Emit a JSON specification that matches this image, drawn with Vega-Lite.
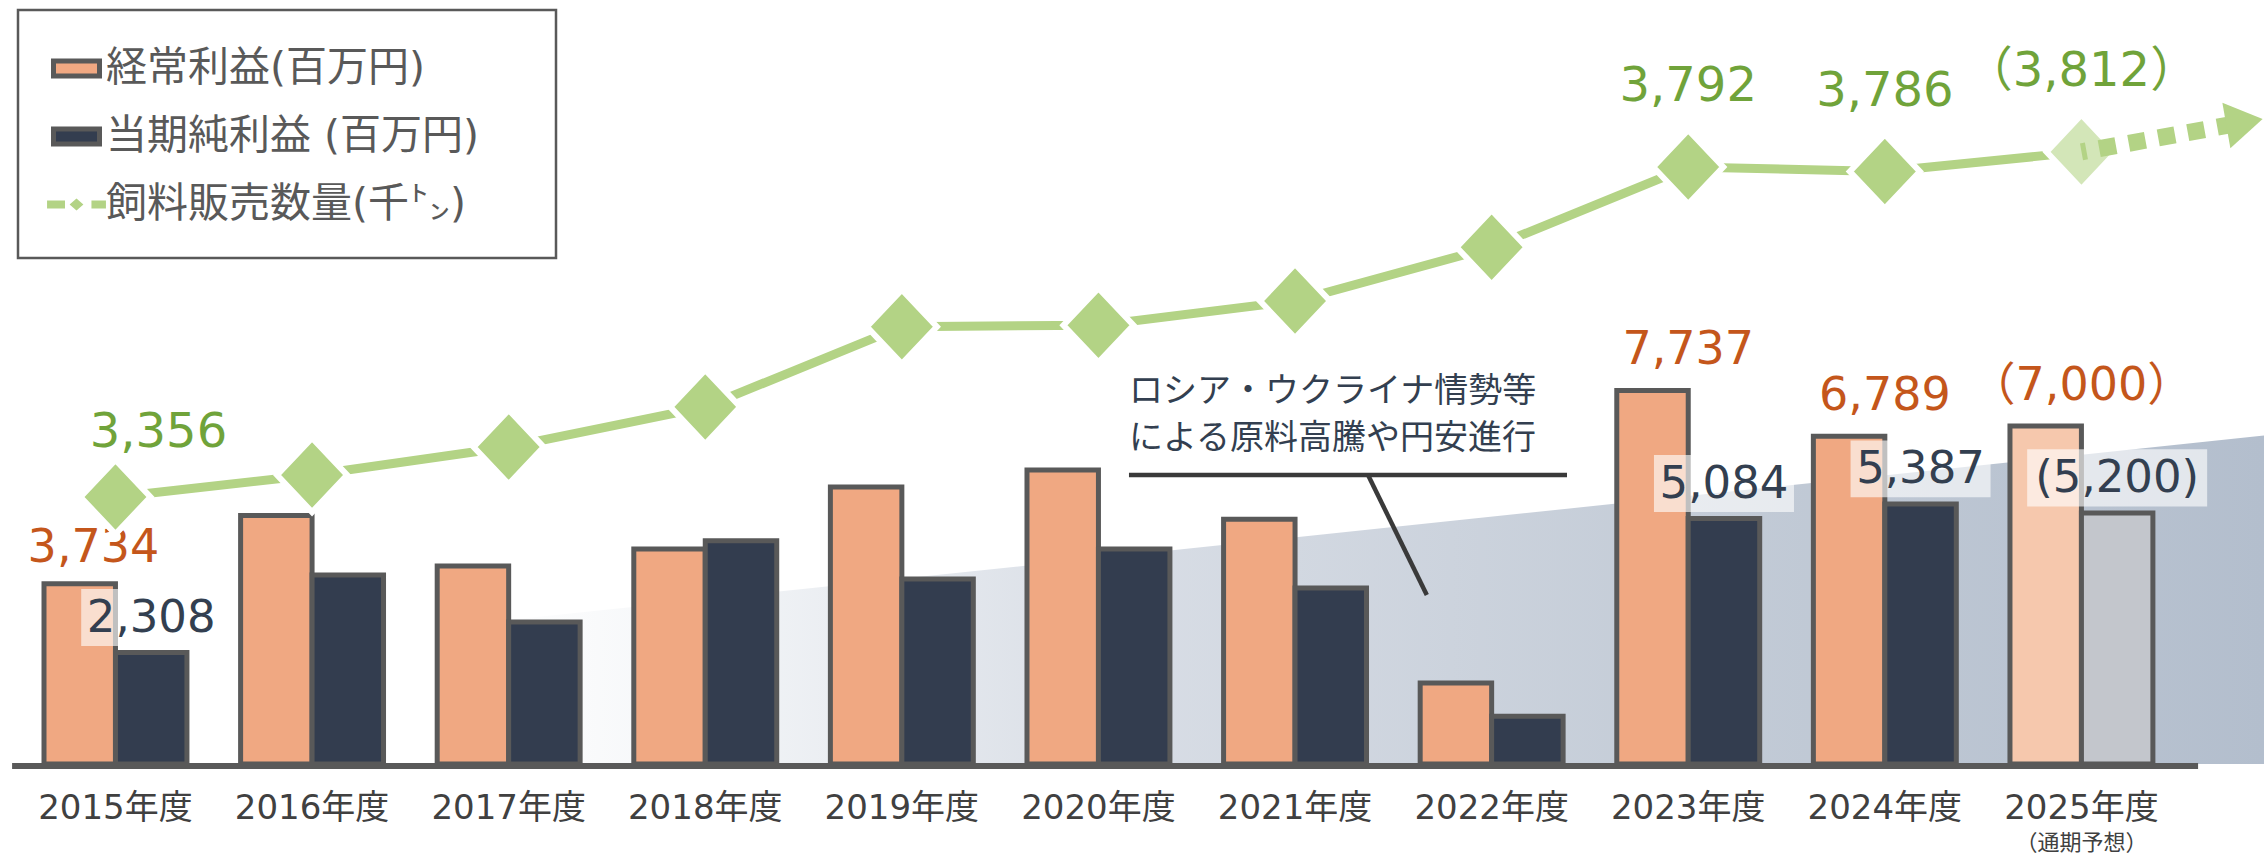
{
  "$schema": "https://vega.github.io/schema/vega-lite/v6.json",
  "width": 2264,
  "height": 764,
  "autosize": {"type": "none"},
  "padding": {"left": 0, "top": 0, "right": 0, "bottom": 94},
  "background": "#ffffff",
  "config": {"view": {"stroke": null}, "font": "Noto Sans CJK JP"},
  "datasets": {
    "bars": [
      {"year": "2015年度", "series": "経常利益(百万円)", "value": 3734, "label": "3,734"},
      {"year": "2015年度", "series": "当期純利益 (百万円)", "value": 2308, "label": "2,308"},
      {"year": "2016年度", "series": "経常利益(百万円)", "value": 5145, "label": ""},
      {"year": "2016年度", "series": "当期純利益 (百万円)", "value": 3912, "label": ""},
      {"year": "2017年度", "series": "経常利益(百万円)", "value": 4098, "label": ""},
      {"year": "2017年度", "series": "当期純利益 (百万円)", "value": 2942, "label": ""},
      {"year": "2018年度", "series": "経常利益(百万円)", "value": 4452, "label": ""},
      {"year": "2018年度", "series": "当期純利益 (百万円)", "value": 4622, "label": ""},
      {"year": "2019年度", "series": "経常利益(百万円)", "value": 5738, "label": ""},
      {"year": "2019年度", "series": "当期純利益 (百万円)", "value": 3830, "label": ""},
      {"year": "2020年度", "series": "経常利益(百万円)", "value": 6090, "label": ""},
      {"year": "2020年度", "series": "当期純利益 (百万円)", "value": 4452, "label": ""},
      {"year": "2021年度", "series": "経常利益(百万円)", "value": 5070, "label": ""},
      {"year": "2021年度", "series": "当期純利益 (百万円)", "value": 3645, "label": ""},
      {"year": "2022年度", "series": "経常利益(百万円)", "value": 1675, "label": ""},
      {"year": "2022年度", "series": "当期純利益 (百万円)", "value": 990, "label": ""},
      {"year": "2023年度", "series": "経常利益(百万円)", "value": 7737, "label": "7,737"},
      {"year": "2023年度", "series": "当期純利益 (百万円)", "value": 5084, "label": "5,084"},
      {"year": "2024年度", "series": "経常利益(百万円)", "value": 6789, "label": "6,789"},
      {"year": "2024年度", "series": "当期純利益 (百万円)", "value": 5387, "label": "5,387"},
      {"year": "2025年度", "series": "経常利益(百万円)", "value": 7000, "label": "（7,000）"},
      {"year": "2025年度", "series": "当期純利益 (百万円)", "value": 5200, "label": "(5,200)"}
    ],
    "feed": [
      {"year": "2015年度", "value": 3356, "label": "3,356"},
      {"year": "2016年度", "value": 3385, "label": ""},
      {"year": "2017年度", "value": 3422, "label": ""},
      {"year": "2018年度", "value": 3475, "label": ""},
      {"year": "2019年度", "value": 3581, "label": ""},
      {"year": "2020年度", "value": 3583, "label": ""},
      {"year": "2021年度", "value": 3615, "label": ""},
      {"year": "2022年度", "value": 3686, "label": ""},
      {"year": "2023年度", "value": 3792, "label": "3,792"},
      {"year": "2024年度", "value": 3786, "label": "3,786"},
      {"year": "2025年度", "value": 3812, "label": "（3,812）"}
    ],
    "arrow": [
      {"i": 10, "v": 3812},
      {"i": 10.806, "v": 3850}
    ],
    "bg": [
      {"i": 1.854, "top": 2920},
      {"i": 10.9283, "top": 6803}
    ],
    "rules": [
      {"kind": "base", "i": -0.526, "i2": 10.593, "v": -41, "v2": -41},
      {"kind": "note", "i": 5.155, "i2": 7.383, "v": 5985, "v2": 5985},
      {"kind": "note", "i": 6.371, "i2": 6.67, "v": 5985, "v2": 3500}
    ],
    "note": [
      {"i": 5.155, "v": 7700, "t": "ロシア・ウクライナ情勢等"},
      {"i": 5.155, "v": 6740, "t": "による原料高騰や円安進行"}
    ],
    "foot": [
      {"i": 10, "v": -1636, "t": "（通期予想）"}
    ]
  },
  "layer": [
    {
      "data": {"name": "bg"},
      "mark": {
        "type": "area",
        "color": {
          "gradient": "linear", "x1": 0, "y1": 0, "x2": 1, "y2": 0,
          "stops": [
            {"offset": 0, "color": "#ffffff"},
            {"offset": 0.12, "color": "#f4f6f8"},
            {"offset": 0.35, "color": "#d9dee6"},
            {"offset": 0.65, "color": "#c5cdd8"},
            {"offset": 1, "color": "#b3becd"}
          ]
        }
      },
      "encoding": {
        "x": {"field": "i", "type": "quantitative", "scale": {"domain": [-0.58749, 10.92828], "nice": false, "zero": false}, "axis": null},
        "y": {"field": "top", "type": "quantitative", "scale": {"domain": [0, 15822], "nice": false, "zero": false}, "axis": null},
        "y2": {"datum": 0}
      }
    },
    {
      "data": {"name": "bars"},
      "encoding": {
        "x": {
          "field": "year", "type": "nominal",
          "scale": {"type": "band", "domain": ["2015年度","2016年度","2017年度","2018年度","2019年度","2020年度","2021年度","2022年度","2023年度","2024年度","2025年度"], "paddingInner": 0.273, "paddingOuter": 0.3945, "align": 0.2837, "round": false},
          "axis": {"title": null, "domain": false, "ticks": false, "labelAngle": 0, "labelFont": "DejaVu Sans, Noto Sans CJK JP", "labelFontSize": 34, "labelColor": "#404040", "labelPadding": 27}
        },
        "y": {"field": "value", "type": "quantitative", "scale": {"domain": [0, 15822], "nice": false, "zero": false}, "axis": null}
      },
      "layer": [
        {
          "mark": {"type": "bar", "stroke": "#595959", "strokeWidth": 5},
          "encoding": {
            "xOffset": {"field": "series", "type": "nominal", "scale": {"domain": ["経常利益(百万円)", "当期純利益 (百万円)"], "paddingInner": 0, "paddingOuter": 0}},
            "color": {
              "condition": [
                {"test": "datum.year === '2025年度' && datum.series === '経常利益(百万円)'", "value": "#f6c8ad"},
                {"test": "datum.year === '2025年度' && datum.series === '当期純利益 (百万円)'", "value": "#c3c6cc"}
              ],
              "field": "series", "type": "nominal",
              "scale": {"domain": ["経常利益(百万円)", "当期純利益 (百万円)", "飼料販売数量(千㌧)"], "range": ["#f0a882", "#333d4f", "#b3d385"]},
              "legend": {
                "orient": "none", "legendX": 18, "legendY": 10, "title": null,
                "padding": 33, "strokeColor": "#595959", "fillColor": "#ffffff",
                "labelFont": "DejaVu Sans, Noto Sans CJK JP", "labelFontSize": 41, "labelColor": "#595959", "labelLimit": 0,
                "labelExpr": "datum.label + ' \u2800'",
                "symbolSize": 2116, "symbolStrokeWidth": 5, "symbolStrokeColor": "#595959", "symbolOpacity": 1,
                "labelOffset": 4, "rowPadding": 22,
                "encode": {
                  "legend": {"update": {"strokeWidth": {"value": 2.5}}},
                  "symbols": {"update": {
                    "shape": {"signal": "datum.index === 2 ? 'M-1.28,-0.17H-0.5V0.17H-1.28Z M-0.3,0L0,-0.26L0.3,0L0,0.26Z M0.65,-0.17H1.28V0.17H0.65Z' : 'M-1,-0.33H1V0.33H-1Z'"},
                    "stroke": {"signal": "datum.index === 2 ? 'transparent' : '#595959'"},
                    "strokeWidth": {"value": 5}
                  }}
                }
              }
            }
          }
        },
        {
          "transform": [{"filter": "datum.series === '当期純利益 (百万円)' && datum.label !== '' && datum.year !== '2025年度'"}],
          "mark": {"type": "point", "shape": "M-1,-0.907H1V-0.093H-1Z", "size": 19600, "filled": true, "color": "#ffffff", "opacity": 0.62, "strokeWidth": 0},
          "encoding": {"xOffset": {"field": "series", "type": "nominal", "scale": {"domain": ["経常利益(百万円)", "当期純利益 (百万円)"], "paddingInner": 0, "paddingOuter": 0}}}
        },
        {
          "transform": [{"filter": "datum.series === '当期純利益 (百万円)' && datum.year === '2025年度'"}],
          "mark": {"type": "point", "shape": "M-1,-0.706H1V-0.072H-1Z", "size": 32400, "filled": true, "color": "#ffffff", "opacity": 0.62, "strokeWidth": 0},
          "encoding": {"xOffset": {"field": "series", "type": "nominal", "scale": {"domain": ["経常利益(百万円)", "当期純利益 (百万円)"], "paddingInner": 0, "paddingOuter": 0}}}
        },
        {
          "transform": [{"filter": "datum.series === '経常利益(百万円)' && datum.label !== '' && datum.year !== '2015年度'"}],
          "mark": {"type": "text", "font": "DejaVu Sans, Noto Sans CJK JP", "fontSize": 46, "color": "#c4561b", "baseline": "middle", "dy": -40},
          "encoding": {"text": {"field": "label"}}
        },
        {
          "transform": [{"filter": "datum.series === '経常利益(百万円)' && datum.year === '2015年度'"}],
          "mark": {"type": "text", "font": "DejaVu Sans, Noto Sans CJK JP", "fontSize": 46, "color": "#c4561b", "baseline": "middle", "dy": -36, "dx": -22},
          "encoding": {"text": {"field": "label"}}
        },
        {
          "transform": [{"filter": "datum.series === '当期純利益 (百万円)' && datum.label !== ''"}],
          "mark": {"type": "text", "font": "DejaVu Sans, Noto Sans CJK JP", "fontSize": 45, "color": "#333f50", "baseline": "middle", "dy": -35},
          "encoding": {
            "xOffset": {"field": "series", "type": "nominal", "scale": {"domain": ["経常利益(百万円)", "当期純利益 (百万円)"], "paddingInner": 0, "paddingOuter": 0}},
            "text": {"field": "label"}
          }
        }
      ]
    },
    {
      "encoding": {
        "x": {"field": "i", "type": "quantitative", "scale": {"domain": [-0.58749, 10.92828], "nice": false, "zero": false}, "axis": null},
        "y": {"field": "v", "type": "quantitative", "scale": {"domain": [0, 15822], "nice": false, "zero": false}, "axis": null}
      },
      "layer": [
        {
          "data": {"name": "rules"},
          "transform": [{"filter": "datum.kind === 'base'"}],
          "mark": {"type": "rule", "color": "#595959", "strokeWidth": 6},
          "encoding": {"x2": {"field": "i2"}, "y2": {"field": "v2"}}
        },
        {
          "data": {"name": "rules"},
          "transform": [{"filter": "datum.kind === 'note'"}],
          "mark": {"type": "rule", "color": "#3a3a3a", "strokeWidth": 4.5},
          "encoding": {"x2": {"field": "i2"}, "y2": {"field": "v2"}}
        },
        {
          "data": {"name": "note"},
          "mark": {"type": "text", "font": "Noto Sans CJK JP", "fontSize": 34, "color": "#333f50", "align": "left", "baseline": "middle"},
          "encoding": {"text": {"field": "t"}}
        },
        {
          "data": {"name": "foot"},
          "mark": {"type": "text", "font": "Noto Sans CJK JP", "fontSize": 22, "color": "#404040", "align": "center", "baseline": "middle"},
          "encoding": {"text": {"field": "t"}}
        }
      ]
    },
    {
      "data": {"name": "feed"},
      "encoding": {
        "x": {
          "field": "year", "type": "nominal",
          "scale": {"type": "band", "domain": ["2015年度","2016年度","2017年度","2018年度","2019年度","2020年度","2021年度","2022年度","2023年度","2024年度","2025年度"], "paddingInner": 0.273, "paddingOuter": 0.3945, "align": 0.2837, "round": false},
          "axis": null
        },
        "y": {"field": "value", "type": "quantitative", "scale": {"domain": [3003.24, 4012.64], "nice": false, "zero": false}, "axis": null}
      },
      "layer": [
        {"mark": {"type": "line", "color": "#b3d385", "strokeWidth": 9}},
        {
          "mark": {"type": "point", "shape": "M-1,0L0,-1.06L1,0L0,1.06Z", "size": 4900, "filled": true, "opacity": 1, "stroke": "#ffffff", "strokeWidth": 6},
          "encoding": {"fill": {"condition": {"test": "datum.year === '2025年度'", "value": "#d3e6b8"}, "value": "#b3d385"}}
        },
        {
          "transform": [{"filter": "datum.label !== '' && datum.year !== '2015年度'"}],
          "mark": {"type": "text", "font": "DejaVu Sans, Noto Sans CJK JP", "fontSize": 48, "color": "#70a33a", "baseline": "middle", "dy": -80},
          "encoding": {"text": {"field": "label"}}
        },
        {
          "transform": [{"filter": "datum.year === '2015年度'"}],
          "mark": {"type": "text", "font": "DejaVu Sans, Noto Sans CJK JP", "fontSize": 48, "color": "#70a33a", "baseline": "middle", "dy": -64, "dx": 43},
          "encoding": {"text": {"field": "label"}}
        }
      ]
    },
    {
      "data": {"name": "arrow"},
      "encoding": {
        "x": {"field": "i", "type": "quantitative", "scale": {"domain": [-0.58749, 10.92828], "nice": false, "zero": false}, "axis": null},
        "y": {"field": "v", "type": "quantitative", "scale": {"domain": [3003.24, 4012.64], "nice": false, "zero": false}, "axis": null}
      },
      "layer": [
        {"mark": {"type": "line", "color": "#b3d385", "strokeWidth": 17, "strokeDash": [17, 13], "strokeDashOffset": 12, "strokeCap": "butt"}},
        {
          "transform": [{"filter": "datum.i > 10"}],
          "mark": {"type": "point", "shape": "M-0.6,-1L1,0L-0.6,1Z", "size": 2116, "filled": true, "color": "#b3d385", "opacity": 1, "angle": -10}
        }
      ]
    }
  ],
  "resolve": {"scale": {"x": "independent", "y": "independent"}}
}
